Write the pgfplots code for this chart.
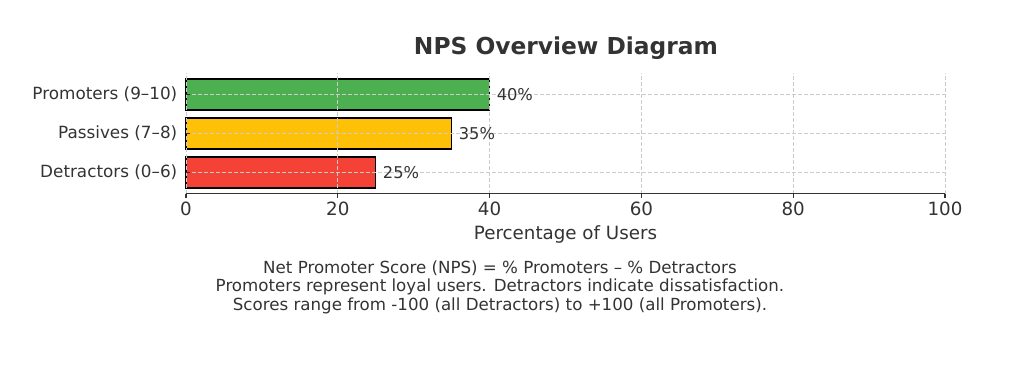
\documentclass[border=0pt]{standalone}
\usepackage{pgfplots}
\pgfplotsset{compat=1.18}
\usepackage{fontspec}
\setmainfont{DejaVu Sans}
\definecolor{txt}{HTML}{333333}
\definecolor{gridc}{HTML}{CCCCCC}
\definecolor{pgreen}{HTML}{4CAF50}
\definecolor{pyellow}{HTML}{FFC107}
\definecolor{pred}{HTML}{F44336}
\begin{document}
\begin{tikzpicture}
\path[use as bounding box] (-139.5pt,-139.05pt) rectangle (628.5pt,145.2pt);
\begin{axis}[
  at={(0pt,0pt)}, anchor=south west,
  scale only axis, width=569.25pt, height=90.15pt,
  xmin=0, xmax=100, ymin=-0.54, ymax=2.54,
  xtick={0,20,...,100}, ytick={0,1,2},
  yticklabels={Detractors (0--6),Passives (7--8),Promoters (9--10)},
  axis lines*=left,
  x axis line style={draw=txt, line width=1.3pt},
  y axis line style={draw=none},
  tick align=outside,
  major tick length=3pt,
  xtick style={draw=txt, line width=0.8pt},
  ytick style={draw=txt, line width=0.8pt, xshift=3pt},
  grid=major,
  major grid style={gridc, dash pattern=on 3pt off 1.5pt, line width=0.6pt},
  axis on top,
  xbar, bar width=0.8,
  /pgf/number format/assume math mode=true,
  xticklabel style={font=\fontsize{13.7}{16}\selectfont, text=txt},
  yticklabel style={font=\fontsize{12.6}{15}\selectfont, text=txt},
  xlabel={Percentage of Users},
  xlabel style={font=\fontsize{13.7}{16}\selectfont, text=txt},
  nodes near coords={\pgfmathprintnumber{\pgfplotspointmeta}\%},
  every node near coord/.append style={font=\fontsize{12.2}{15}\selectfont, text=txt, anchor=west, xshift=1.5pt},
  clip=false,
]
\addplot[fill=pred, draw=black, line width=1.1pt, bar shift=0pt] coordinates {(25,0)};
\addplot[fill=pyellow, draw=black, line width=1.1pt, bar shift=0pt] coordinates {(35,1)};
\addplot[fill=pgreen, draw=black, line width=1.1pt, bar shift=0pt] coordinates {(40,2)};
\end{axis}
\node[font=\bfseries\fontsize{17.5}{21}\selectfont, text=txt] at (285pt,109.2pt) {NPS Overview Diagram};
\node[font=\fontsize{12.5}{13.9}\selectfont, text=txt, align=center] at (235.5pt,-70.2pt) {Net Promoter Score (NPS) = \% Promoters -- \% Detractors\\Promoters represent loyal users. Detractors indicate dissatisfaction.\\Scores range from -100 (all Detractors) to +100 (all Promoters).};
\end{tikzpicture}
\end{document}
